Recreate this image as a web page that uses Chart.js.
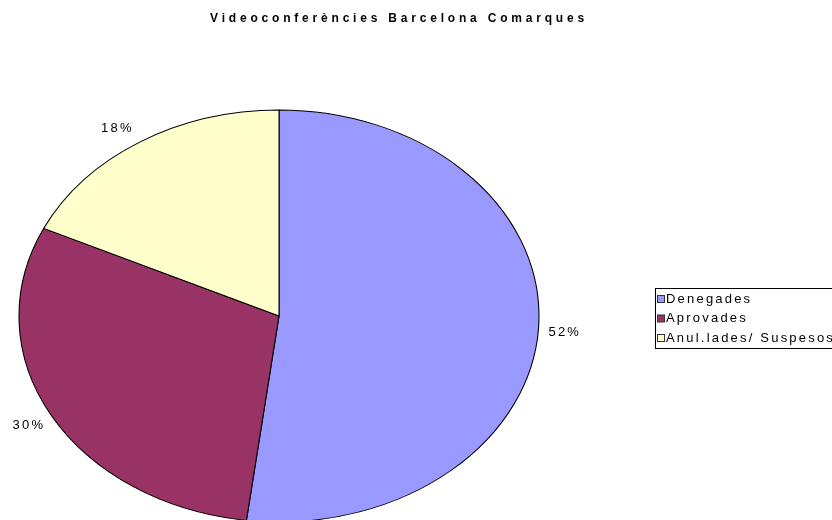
<!doctype html>
<html>

<head>
    <title>Videoconferències</title>
    <script src="https://cdn.jsdelivr.net/npm/chart.js"></script>
    <style>
        body { margin: 0; background: #fff; }
    </style>
</head>

<body>
    <div style="width: 832px; height: 520px;">
        <canvas id="grafic"></canvas>
    </div>

    <script>
        var titol = 'Videoconferències Barcelona Comarques';
        var categories = ['Denegades', 'Aprovades', 'Anul.lades/ Suspesos'];
        var valors = [52, 30, 18];
        var colors = ['#9999FF', '#993366', '#FFFFCC'];

        // forma el·líptica del pastís
        var CX = 279, CY = 316, RX = 260, RY = 206;

        var ellipse = {
            id: 'ellipse',
            beforeDatasetsDraw(chart) {
                var arc = chart.getDatasetMeta(0).data[0];
                var ctx = chart.ctx;
                ctx.save();
                ctx.translate(CX, CY);
                ctx.scale(RX / arc.outerRadius, RY / arc.outerRadius);
                ctx.translate(-arc.x, -arc.y);
            },
            afterDatasetsDraw(chart) {
                chart.ctx.restore();
            }
        };

        var textos = {
            id: 'textos',
            afterDraw(chart) {
                var ctx = chart.ctx;
                var meta = chart.getDatasetMeta(0);
                var total = valors.reduce((a, b) => a + b, 0);
                ctx.save();
                ctx.fillStyle = '#000';
                ctx.textBaseline = 'middle';

                // titol
                ctx.font = 'bold 12px "Liberation Sans", Arial, sans-serif';
                ctx.letterSpacing = '3.8px';
                ctx.textAlign = 'center';
                ctx.fillText(titol, 399, 19);

                // percentatges, fora de la vora
                ctx.font = '13px "Liberation Sans", Arial, sans-serif';
                ctx.letterSpacing = '2.2px';
                meta.data.forEach((arc, i) => {
                    var a = (arc.startAngle + arc.endAngle) / 2;
                    var ex = CX + RX * Math.cos(a);
                    var ey = CY + RY * Math.sin(a);
                    var dreta = Math.cos(a) >= 0;
                    ctx.textAlign = dreta ? 'left' : 'right';
                    var x = ex + (dreta ? 10 : -6);
                    var y = ey + 18 * Math.sin(a) + 2;
                    ctx.fillText(Math.round(valors[i] / total * 100) + '%', x, y);
                });

                // llegenda
                ctx.lineWidth = 1;
                ctx.strokeStyle = '#000';
                ctx.strokeRect(655.5, 288.5, 200, 60);
                ctx.textAlign = 'left';
                ctx.letterSpacing = '2.2px';
                ctx.strokeStyle = '#333';
                categories.forEach((c, i) => {
                    var y = 299 + i * 19.5;
                    ctx.fillStyle = colors[i];
                    ctx.fillRect(657.5, y - 3.5, 7, 7);
                    ctx.strokeRect(657.5, y - 3.5, 7, 7);
                    ctx.fillStyle = '#000';
                    ctx.fillText(c, 666, y);
                });
                ctx.restore();
            }
        };

        var grafic = new Chart(document.getElementById('grafic').getContext('2d'), {
            type: 'pie',
            data: {
                labels: categories,
                datasets: [{
                    data: valors,
                    backgroundColor: colors,
                    borderColor: '#000',
                    borderWidth: 1
                }]
            },
            options: {
                responsive: true,
                maintainAspectRatio: false,
                animation: false,
                layout: { padding: 20 },
                plugins: {
                    legend: { display: false },
                    tooltip: { enabled: false }
                }
            },
            plugins: [ellipse, textos]
        });
    </script>
</body>

</html>
